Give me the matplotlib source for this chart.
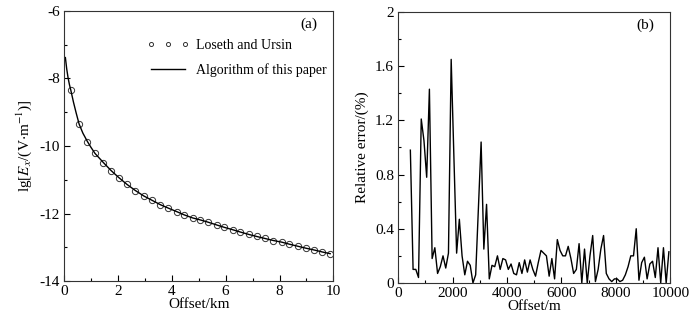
import matplotlib
matplotlib.use("Agg")

import matplotlib.pyplot as plt
from matplotlib.ticker import MultipleLocator

plt.rcParams["font.family"] = ["Liberation Serif", "DejaVu Serif"]
plt.rcParams["mathtext.fontset"] = "stix"

# (a) field amplitude vs offset
line_km = [0.05, 0.1, 0.15, 0.2, 0.25, 0.35, 0.45, 0.56, 0.7, 0.87, 1.0, 1.15,
           1.46, 1.75, 2.04, 2.34, 2.65, 2.96, 3.27, 3.58, 3.87, 4.2, 4.46,
           4.77, 5.06, 5.36, 5.67, 5.95, 6.26, 6.55, 6.86, 7.15, 7.46, 7.77,
           8.09, 8.37, 8.68, 8.99, 9.28, 9.59, 9.88]
line_lg = [-7.38, -7.72, -7.98, -8.18, -8.34, -8.7, -9.02, -9.35, -9.62,
           -9.87, -10.04, -10.22, -10.49, -10.73, -10.94, -11.14, -11.32,
           -11.48, -11.61, -11.74, -11.84, -11.95, -12.04, -12.13, -12.19,
           -12.26, -12.34, -12.41, -12.48, -12.55, -12.62, -12.68, -12.74,
           -12.8, -12.85, -12.91, -12.97, -13.03, -13.08, -13.14, -13.19]

marker_km = [0.25, 0.56, 0.87, 1.15, 1.46, 1.75, 2.04, 2.34, 2.65, 2.96, 3.27,
             3.58, 3.87, 4.2, 4.46, 4.77, 5.06, 5.36, 5.67, 5.95, 6.26, 6.55,
             6.86, 7.15, 7.46, 7.77, 8.09, 8.37, 8.68, 8.99, 9.28, 9.59, 9.88]
marker_lg = [-8.34, -9.35, -9.87, -10.22, -10.49, -10.73, -10.94, -11.14,
             -11.32, -11.48, -11.61, -11.74, -11.84, -11.95, -12.04, -12.13,
             -12.19, -12.26, -12.34, -12.41, -12.48, -12.55, -12.62, -12.68,
             -12.74, -12.8, -12.85, -12.91, -12.97, -13.03, -13.08, -13.14,
             -13.19]

# (b) relative error vs offset
offset_m = [450, 550, 650, 750, 850, 950, 1050, 1150, 1250, 1350, 1450, 1550,
            1650, 1750, 1850, 1950, 2050, 2150, 2250, 2350, 2450, 2550, 2650,
            2750, 2850, 2950, 3050, 3150, 3250, 3350, 3450, 3550, 3650, 3750,
            3850, 3950, 4050, 4150, 4250, 4350, 4450, 4550, 4650, 4750, 4850,
            4950, 5050, 5150, 5250, 5350, 5450, 5550, 5650, 5750, 5850, 5950,
            6050, 6150, 6250, 6350, 6450, 6550, 6650, 6750, 6850, 6950, 7050,
            7150, 7250, 7350, 7450, 7550, 7650, 7750, 7850, 7950, 8050, 8150,
            8250, 8350, 8450, 8550, 8650, 8750, 8850, 8950, 9050, 9150, 9250,
            9350, 9450, 9550, 9650, 9750, 9850, 9950]
rel_err = [0.98, 0.10, 0.10, 0.04, 1.21, 1.05, 0.78, 1.43, 0.18, 0.26, 0.07,
           0.12, 0.20, 0.11, 0.22, 1.65, 0.93, 0.22, 0.47, 0.20, 0.06, 0.16,
           0.13, 0.00, 0.06, 0.55, 1.04, 0.25, 0.58, 0.03, 0.13, 0.12, 0.20,
           0.10, 0.18, 0.17, 0.10, 0.14, 0.07, 0.06, 0.15, 0.07, 0.17, 0.08,
           0.17, 0.10, 0.05, 0.15, 0.24, 0.22, 0.20, 0.05, 0.18, 0.03, 0.32,
           0.24, 0.20, 0.20, 0.27, 0.18, 0.07, 0.10, 0.29, 0.00, 0.25, 0.00,
           0.20, 0.35, 0.01, 0.10, 0.25, 0.35, 0.07, 0.03, 0.01, 0.03, 0.03,
           0.01, 0.02, 0.06, 0.12, 0.20, 0.20, 0.40, 0.02, 0.15, 0.19, 0.03,
           0.14, 0.16, 0.04, 0.26, 0.00, 0.26, 0.00, 0.23]

fig = plt.figure(figsize=(6.96, 3.23), dpi=100, facecolor="white")
ax1 = fig.add_axes([0.092, 0.130, 0.387, 0.836])
ax2 = fig.add_axes([0.572, 0.124, 0.391, 0.839])

ax1.plot(marker_km, marker_lg, linestyle="none", marker="o", markersize=4.5,
         markerfacecolor="none", markeredgecolor="#333333",
         markeredgewidth=0.7, label="Loseth and Ursin")
ax1.plot(line_km, line_lg, color="black", linewidth=1.0,
         label="Algorithm of this paper")
ax1.set_xlim(0, 10)
ax1.set_ylim(-14, -6)
ax1.xaxis.set_major_locator(MultipleLocator(2))
ax1.xaxis.set_minor_locator(MultipleLocator(1))
ax1.yaxis.set_minor_locator(MultipleLocator(1))
ax1.set_yticks([-14, -12, -10, -8, -6])
ax1.set_yticklabels(["-14", "-12", "-10", "-8", "-6"])
ax1.set_xlabel("Offset/km", fontsize=11, labelpad=0)
ax1.set_ylabel(r"lg[$E_x$/(V$\cdot$m$^{-1}$)]", fontsize=11, labelpad=4)
ax1.text(0.94, 0.95, "(a)", transform=ax1.transAxes, ha="right",
         va="center", fontsize=11)
ax1.legend(loc="center left", bbox_to_anchor=(0.309, 0.826), frameon=False,
           fontsize=10, numpoints=3, markerscale=0.65, handlelength=3.0,
           handletextpad=0.5, labelspacing=0.8, borderaxespad=0,
           borderpad=0)

ax2.plot(offset_m, rel_err, color="black", linewidth=1.0)
ax2.set_xlim(0, 10000)
ax2.set_ylim(0, 2)
ax2.xaxis.set_major_locator(MultipleLocator(2000))
ax2.xaxis.set_minor_locator(MultipleLocator(1000))
ax2.yaxis.set_minor_locator(MultipleLocator(0.2))
ax2.set_yticks([0, 0.4, 0.8, 1.2, 1.6, 2])
ax2.set_yticklabels(["0", "0.4", "0.8", "1.2", "1.6", "2"])
ax2.set_xlabel("Offset/m", fontsize=11, labelpad=0)
ax2.set_ylabel("Relative error/(%)", fontsize=11, labelpad=4)
ax2.text(0.94, 0.95, "(b)", transform=ax2.transAxes, ha="right",
         va="center", fontsize=11)

for ax in (ax1, ax2):
    ax.tick_params(which="both", direction="in", top=False, right=False,
                   labelsize=11, width=0.8)
    ax.tick_params(which="major", length=4, pad=3)
    ax.tick_params(which="minor", length=2.5)
    for spine in ax.spines.values():
        spine.set_linewidth(0.8)
        spine.set_color("#333333")

fig.savefig("out.png", dpi=100, facecolor="white")
